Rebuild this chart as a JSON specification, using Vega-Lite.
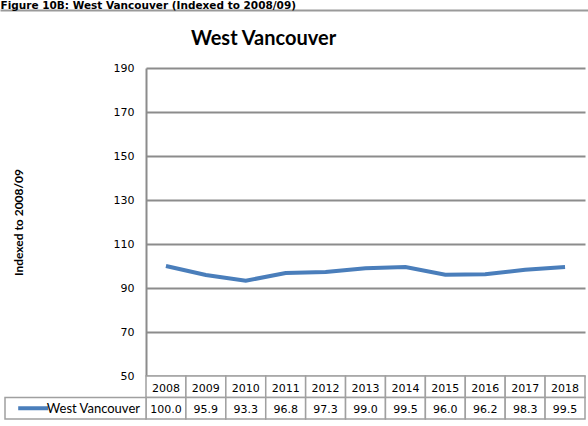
{
  "$schema": "https://vega.github.io/schema/vega-lite/v6.json",
  "width": 439,
  "height": 351,
  "autosize": {"type": "none"},
  "padding": {"left": 146, "top": 68, "right": 3, "bottom": 7},
  "background": "white",
  "config": {"view": {"stroke": null}, "font": "DejaVu Sans"},
  "datasets": {
    "index": [
      {"year": "2008", "value": 100.0},
      {"year": "2009", "value": 95.9},
      {"year": "2010", "value": 93.3},
      {"year": "2011", "value": 96.8},
      {"year": "2012", "value": 97.3},
      {"year": "2013", "value": 99.0},
      {"year": "2014", "value": 99.5},
      {"year": "2015", "value": 96.0},
      {"year": "2016", "value": 96.2},
      {"year": "2017", "value": 98.3},
      {"year": "2018", "value": 99.5}
    ],
    "series": [{"series": "West Vancouver"}]
  },
  "layer": [
    {
      "data": {"name": "series"},
      "mark": {"type": "point", "opacity": 0},
      "encoding": {
        "x": {
          "field": "series", "type": "nominal",
          "scale": {"type": "band", "range": [-146, 442], "paddingInner": 0, "paddingOuter": 0},
          "axis": {
            "orient": "top", "offset": 58, "domainColor": "#9a9a9a", "domainWidth": 2,
            "ticks": false, "labels": false, "grid": false,
            "title": "Figure 10B: West Vancouver (Indexed to 2008/09)",
            "titleFont": "DejaVu Sans", "titleFontSize": 10.5, "titleFontWeight": "bold", "titleColor": "#000",
            "titleAlign": "left", "titleBaseline": "alphabetic", "titleX": -146, "titleY": -2
          }
        }
      }
    },
    {
      "data": {"name": "index"},
      "mark": {"type": "line", "color": "#4a7ebb", "strokeWidth": 4},
      "encoding": {
        "x": {
          "field": "year", "type": "ordinal",
          "scale": {"type": "point", "padding": 0.5},
          "axis": {
            "orient": "top", "domain": false, "ticks": false, "labels": false, "grid": false,
            "title": "West Vancouver", "titleFont": "Lato", "titleFontSize": 20, "titleFontWeight": "bold",
            "titleColor": "#000", "titleAlign": "center", "titleBaseline": "alphabetic", "titleX": 117, "titleY": -24
          }
        },
        "y": {
          "field": "value", "type": "quantitative",
          "scale": {"domain": [50, 190], "range": [308, 0], "nice": false, "zero": false},
          "axis": {
            "orient": "left", "values": [50, 70, 90, 110, 130, 150, 170, 190],
            "grid": true, "gridColor": "#8c8c8c", "gridWidth": 2,
            "domainColor": "#8c8c8c", "domainWidth": 2, "ticks": false,
            "labelFont": "DejaVu Sans", "labelFontSize": 11, "labelColor": "#000", "labelPadding": 12,
            "title": "Indexed to 2008/09", "titleFont": "Lato", "titleFontSize": 12, "titleFontWeight": "bold",
            "titleColor": "#000", "titlePadding": 88
          }
        }
      }
    },
    {
      "data": {"name": "index"},
      "encoding": {
        "x": {
          "field": "year", "type": "ordinal",
          "scale": {"type": "band", "paddingInner": 0, "paddingOuter": 0},
          "axis": null
        }
      },
      "layer": [
        {
          "mark": {"type": "rect", "fill": "white", "stroke": "#a0a0a0", "strokeWidth": 1.5},
          "encoding": {
            "y": {"datum": "year", "type": "nominal",
              "scale": {"type": "band", "domain": ["year", "West Vancouver"], "range": [308, 351], "paddingInner": 0, "paddingOuter": 0},
              "axis": null}
          }
        },
        {
          "mark": {"type": "rect", "fill": "white", "stroke": "#a0a0a0", "strokeWidth": 1.5},
          "encoding": {
            "y": {"datum": "West Vancouver", "type": "nominal",
              "scale": {"type": "band", "domain": ["year", "West Vancouver"], "range": [308, 351], "paddingInner": 0, "paddingOuter": 0},
              "axis": null}
          }
        },
        {
          "mark": {"type": "text", "font": "DejaVu Sans", "fontSize": 11, "color": "#000", "dy": 2},
          "encoding": {
            "y": {"datum": "year", "type": "nominal",
              "scale": {"type": "band", "domain": ["year", "West Vancouver"], "range": [308, 351], "paddingInner": 0, "paddingOuter": 0},
              "axis": null},
            "text": {"field": "year", "type": "nominal"}
          }
        },
        {
          "mark": {"type": "text", "font": "DejaVu Sans", "fontSize": 11, "color": "#000", "dy": 2},
          "encoding": {
            "y": {"datum": "West Vancouver", "type": "nominal",
              "scale": {"type": "band", "domain": ["year", "West Vancouver"], "range": [308, 351], "paddingInner": 0, "paddingOuter": 0},
              "axis": null},
            "text": {"field": "value", "type": "quantitative", "format": ".1f"}
          }
        }
      ]
    },
    {
      "data": {"name": "series"},
      "encoding": {
        "y": {
          "field": "series", "type": "nominal",
          "scale": {"type": "band", "domain": ["year", "West Vancouver"], "range": [308, 351], "paddingInner": 0, "paddingOuter": 0},
          "axis": null
        }
      },
      "layer": [
        {
          "mark": {"type": "rect", "fill": "white", "stroke": "#a0a0a0", "strokeWidth": 1.5},
          "encoding": {
            "x": {"field": "series", "type": "nominal",
              "scale": {"type": "band", "domain": ["West Vancouver"], "range": [-141, 0], "paddingInner": 0, "paddingOuter": 0},
              "axis": null}
          }
        },
        {
          "mark": {"type": "point", "shape": "stroke", "size": 900, "strokeWidth": 4, "color": "#4a7ebb", "filled": false, "opacity": 1},
          "encoding": {
            "x": {"field": "series", "type": "nominal", "bandPosition": 0.2,
              "scale": {"type": "band", "domain": ["West Vancouver"], "range": [-141, 0], "paddingInner": 0, "paddingOuter": 0},
              "axis": null}
          }
        },
        {
          "mark": {"type": "text", "font": "Lato", "fontSize": 13, "color": "#000", "align": "right", "dx": -6, "dy": 1},
          "encoding": {
            "x": {"field": "series", "type": "nominal", "bandPosition": 1,
              "scale": {"type": "band", "domain": ["West Vancouver"], "range": [-141, 0], "paddingInner": 0, "paddingOuter": 0},
              "axis": null},
            "text": {"field": "series", "type": "nominal"}
          }
        }
      ]
    }
  ],
  "resolve": {
    "scale": {"x": "independent", "y": "independent"},
    "axis": {"x": "independent", "y": "independent"}
  }
}
